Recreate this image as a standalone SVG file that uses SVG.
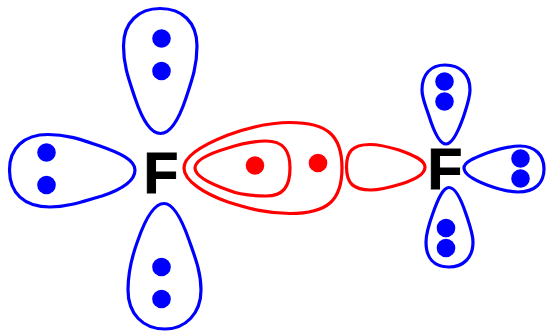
<svg xmlns="http://www.w3.org/2000/svg" width="547" height="331" viewBox="0 0 547 331">
<style>
.b{fill:none;stroke:#0000ff;stroke-width:3.200}
.r{fill:none;stroke:#ff0000;stroke-width:3.200}
.db{fill:#0000ff}
.dr{fill:#ff0000}
.f{font-family:"Liberation Sans",Arial,sans-serif;font-weight:bold;font-size:57px;fill:#000;stroke:#000;stroke-width:1}
</style>
<rect width="547" height="331" fill="#fff"/>
<g id="atom-left"><text class="f" x="143.500" y="192.500">F</text></g>
<g id="atom-right"><text class="f" x="427.500" y="188.500">F</text></g>
<g id="lobe-left-top">
<path class="b" d="M160.500,133.500C151,133.500 142,119 135,98C129,80 123.500,66 123.500,46C123.500,22 139,8.500 160,8.500C182,8.500 197,22 197,46C197,66 192,80 186,98C179,119 170,133.500 160.500,133.500Z"/>
<circle class="db" cx="161.500" cy="38.500" r="9.300"/><circle class="db" cx="161.500" cy="71" r="9.300"/>
</g>
<g id="lobe-left-west">
<path class="b" d="M135,170C135,160 120,153 100,146C82,140 68,134.500 48,134.500C24,134.500 9.500,148 9.500,170C9.500,193 24,207 50,207C68,207 84,201 102,196C120,190 135,181 135,170Z"/>
<circle class="db" cx="46.500" cy="152.500" r="9.300"/><circle class="db" cx="46.500" cy="185" r="9.300"/>
</g>
<g id="lobe-left-bottom">
<path class="b" d="M164,203.500C173,203.500 182,220 189,240C195,257 201,272 201,290C201,314 185,329 165,329C143,329 128,314 128,290C128,272 132,256 138,240C145,220 154,203.500 164,203.500Z"/>
<circle class="db" cx="161.500" cy="267" r="9.300"/><circle class="db" cx="161.500" cy="299" r="9.300"/>
</g>
<g id="bond-outer">
<path class="r" d="M184,168C184,155 205,144 228,135C250,127 268,122.500 290,122.500C328,122.500 342,136 342,168C342,200 328,213.500 290,213.500C268,213.500 250,209 228,202C205,194 184,181 184,168Z"/>
</g>
<g id="bond-inner">
<path class="r" d="M195,168C195,160 211,153 228,148C240,144 253,141 266,141C283,141 290,150 290,168C290,187 283,196 266,196C253,196 240,195 228,190C211,184 195,176 195,168Z"/>
<circle class="dr" cx="255" cy="165.500" r="9.300"/>
</g>
<g id="bond-electron"><circle class="dr" cx="318" cy="163" r="9.300"/></g>
<g id="lobe-bond-right">
<path class="r" d="M425,167C425,160 413,155 399,150C389,147 380,144.500 370,144.500C352,144.500 346.500,152 346.500,167C346.500,183 353,190 371,190C381,190 391,187 401,184C414,180 425,174 425,167Z"/>
</g>
<g id="lobe-right-top">
<path class="b" d="M446,144C440,144 434,132 429,116C425,104 422,98 422,90C422,74 431,65 445,65C460,65 470,74 470,90C470,98 467,106 463,118C458,132 452,144 446,144Z"/>
<circle class="db" cx="444.500" cy="81.500" r="9.300"/><circle class="db" cx="444.500" cy="101.500" r="9.300"/>
</g>
<g id="lobe-right-east">
<path class="b" d="M464,168C464,162 474,158 487,153C499,149 510,146 520,146C535,146 544,155 544,169C544,183 535,192 518,192C508,192 498,189 487,185C474,180 464,174 464,168Z"/>
<circle class="db" cx="520.500" cy="158.500" r="9.300"/><circle class="db" cx="520.500" cy="178.500" r="9.300"/>
</g>
<g id="lobe-right-bottom">
<path class="b" d="M449,187.500C455,187.500 461,199 466,214C470,226 473,234 473,242C473,258 463,267 449,267C434,267 426,258 426,242C426,234 429,224 433,213C438,199 443,187.500 449,187.500Z"/>
<circle class="db" cx="446" cy="228" r="9.300"/><circle class="db" cx="446" cy="248" r="9.300"/>
</g>
</svg>
